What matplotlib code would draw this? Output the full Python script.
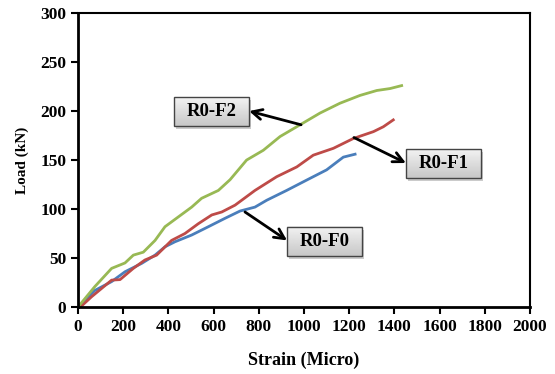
import matplotlib
matplotlib.use('Agg')
import numpy as np
from matplotlib import pyplot as plt
from matplotlib.patches import Rectangle

# strain (micro) / load (kN)
f0_x = [0, 75, 149, 208, 282, 341, 385, 429, 503, 577, 650, 717, 783, 835, 923, 1012, 1100, 1174, 1226]
f0_y = [0, 17, 26, 36, 44.6, 53, 61.5, 66.6, 73.5, 82, 90.5, 98, 102, 109, 119, 129.6, 140, 153, 156]

f1_x = [0, 20, 60, 149, 186, 245, 296, 348, 414, 473, 532, 592, 636, 695, 783, 879, 968, 1041, 1130, 1218, 1307, 1351, 1395]
f1_y = [0, 2, 10.5, 27.5, 28, 39.5, 48, 53, 68, 75, 85, 94, 97, 104, 119, 133, 143, 155, 162, 172, 179, 184, 191]

f2_x = [0, 75, 149, 208, 245, 289, 341, 385, 444, 503, 547, 621, 673, 746, 820, 894, 990, 1071, 1159, 1248, 1322, 1381, 1432]
f2_y = [0, 21, 39.5, 45, 53, 56, 68, 82, 92, 102, 111, 119, 130, 150, 160, 174, 187, 198, 208, 216, 221, 223, 226]

labels = ['R0-F0', 'R0-F1', 'R0-F2']
colors = ['#4a7ebb', '#be4b48', '#98b954']

plt.rcParams['font.family'] = ['Liberation Serif', 'DejaVu Serif']
plt.rcParams['font.weight'] = 'bold'

fig = plt.figure(figsize=(5.55, 3.74), dpi=100)
ax = fig.add_axes([0.1405, 0.179, 0.8145, 0.786])

ax.plot(f0_x, f0_y, color=colors[0], lw=2)
ax.plot(f1_x, f1_y, color=colors[1], lw=2)
ax.plot(f2_x, f2_y, color=colors[2], lw=2)

ax.set_xticks(range(0, 2001, 200))
ax.set_yticks(range(0, 301, 50))
ax.tick_params(labelsize=12.5, width=1.5, length=5)
for s in ['left', 'bottom']:
    ax.spines[s].set_linewidth(2)
for s in ['top', 'right']:
    ax.spines[s].set_linewidth(1.5)

ax.set_xlabel('Strain (Micro)', fontsize=13, fontweight='bold', labelpad=12)
ax.set_ylabel('Load (kN)', fontsize=11, fontweight='bold', labelpad=8)

arrow = dict(arrowstyle='->', color='black', lw=2, mutation_scale=18, shrinkA=0, shrinkB=0)
grad = np.linspace(0.95, 0.78, 50).reshape(-1, 1)

# (label, box x0, x1, y0, y1, arrow tail, arrow tip)
notes = [(labels[2], 425, 757, 185, 214, (987, 186), (757, 200)),
         (labels[1], 1451, 1783, 132, 161, (1221, 173), (1451, 147)),
         (labels[0], 925, 1257, 52, 82, (739, 97), (925, 68))]
for t, x0, x1, y0, y1, tail, tip in notes:
    ax.annotate('', xy=tip, xytext=tail, arrowprops=arrow, zorder=4)
    ax.add_patch(Rectangle((x0 + 10, y0 - 3), x1 - x0, y1 - y0, facecolor='#999999', edgecolor='none', alpha=0.5, zorder=4))
    ax.imshow(grad, cmap='gray', vmin=0, vmax=1, extent=(x0, x1, y0, y1), aspect='auto', zorder=5)
    ax.add_patch(Rectangle((x0, y0), x1 - x0, y1 - y0, facecolor='none', edgecolor='#444444', lw=1, zorder=6))
    ax.text((x0 + x1) / 2, (y0 + y1) / 2, t, fontsize=13.5, fontweight='bold', ha='center', va='center', zorder=7)

ax.set_xlim(0, 2000)
ax.set_ylim(0, 300)

fig.savefig('out.png', dpi=100)
